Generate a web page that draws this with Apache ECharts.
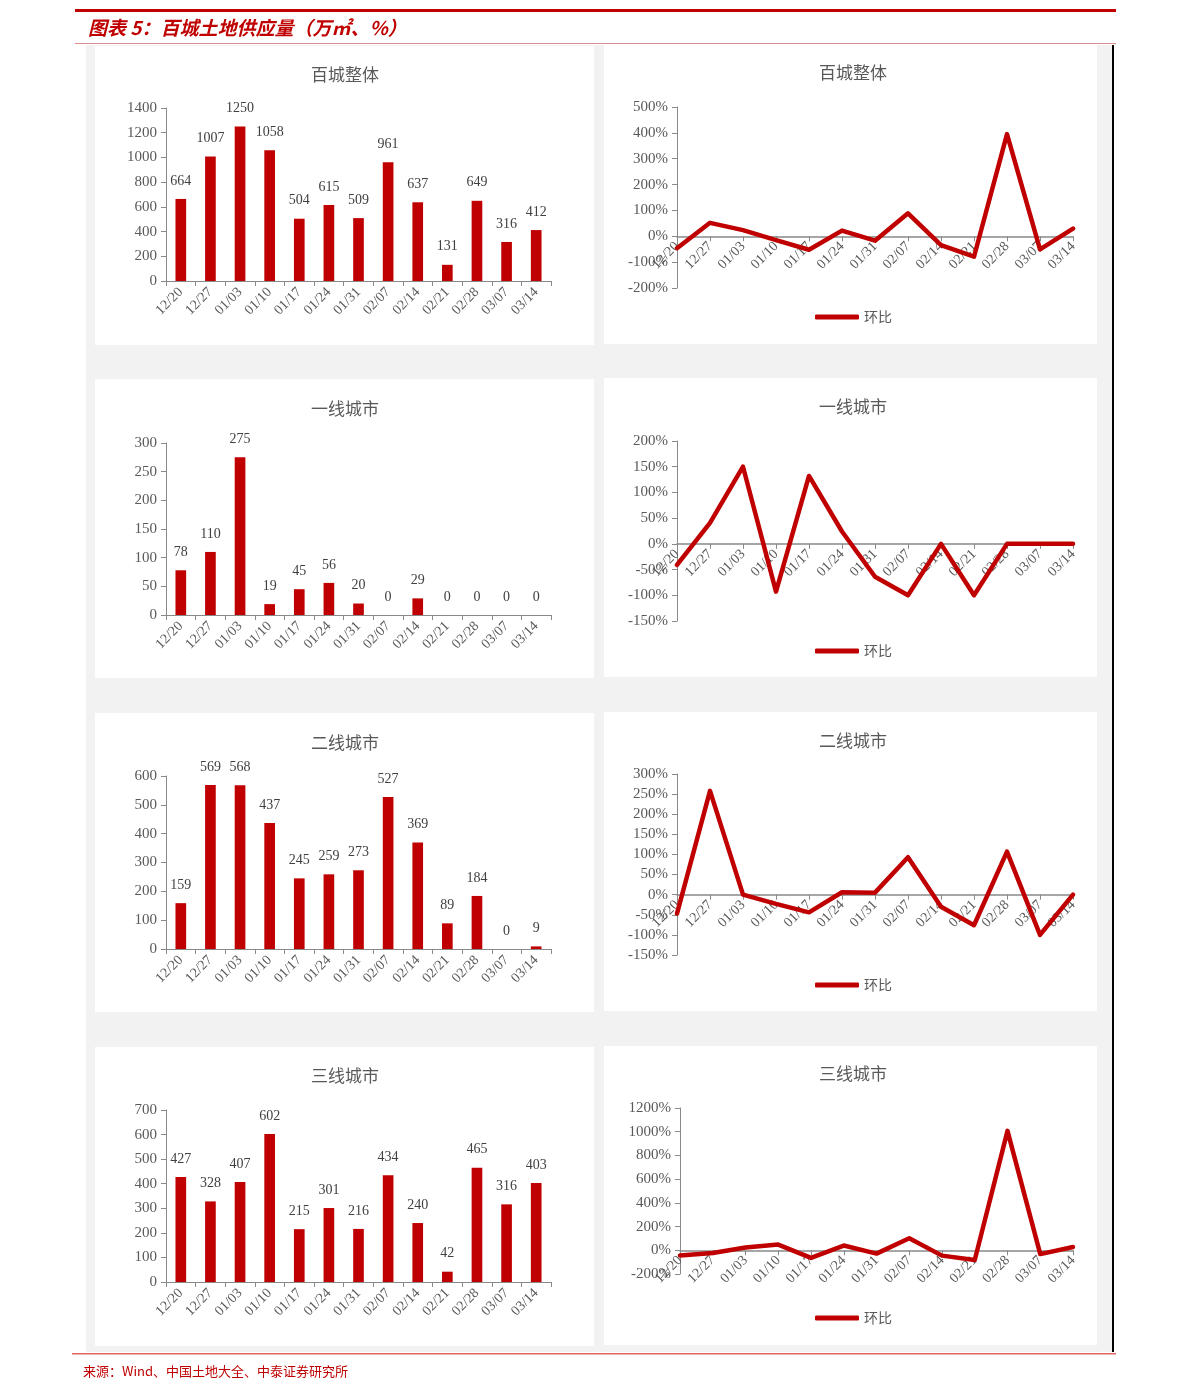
<!DOCTYPE html>
<html>
<head>
<meta charset="utf-8">
<script src="https://cdn.jsdelivr.net/npm/echarts@6/dist/echarts.min.js"></script>
<style>
html,body{margin:0;padding:0;background:#fff;}
#main{width:1191px;height:1398px;}
</style>
</head>
<body>
<div id="main"></div>
<script>
// ---- data ----
const categories = ['12/20','12/27','01/03','01/10','01/17','01/24','01/31','02/07','02/14','02/21','02/28','03/07','03/14'];
const panelTitles = ['百城整体','一线城市','二线城市','三线城市'];
const supplyAll   = [664,1007,1250,1058,504,615,509,961,637,131,649,316,412];
const supplyTier1 = [78,110,275,19,45,56,20,0,29,0,0,0,0];
const supplyTier2 = [159,569,568,437,245,259,273,527,369,89,184,0,9];
const supplyTier3 = [427,328,407,602,215,301,216,434,240,42,465,316,403];
const momAll   = [-46,52,24,-15,-52,22,-17,89,-34,-79,395,-51,30];
const momTier1 = [-41,41,150,-93,132,24,-64,-100,0,-100,0,0,0];
const momTier2 = [-47,258,0,-23,-44,6,5,93,-30,-76,107,-100,0];
const momTier3 = [-43,-23,24,48,-64,40,-28,101,-45,-82,1007,-32,28];
const seriesName = '环比';
const barRanges  = [[0,1400,200],[0,300,50],[0,600,100],[0,700,100]];
const lineRanges = [[-200,500,100],[-150,200,50],[-150,300,50],[-200,1200,200]];
const headerText = '图表 5：百城土地供应量（万㎡、%）';
const footerText = '来源：Wind、中国土地大全、中泰证券研究所';

// ---- layout / style ----
const RED = '#c00000';
const AXIS = '#898989';
const TXT = '#595959';
const SERIF = '"Liberation Serif", "Times New Roman", serif';
const CJK = '"Noto Sans CJK SC", sans-serif';
const barSets = [supplyAll, supplyTier1, supplyTier2, supplyTier3];
const lineSets = [momAll, momTier1, momTier2, momTier3];
const barGrids = [
  {top:108, bottom:281},{top:443, bottom:615},{top:776, bottom:949},{top:1110, bottom:1282}
];
const lineGrids = [
  {top:107, bottom:288, left:677},{top:441, bottom:621, left:677},{top:774, bottom:955, left:677},{top:1108, bottom:1274, left:680}
];
const panelTops = [46, 379, 713, 1047];
const titleY = [75, 409, 743, 1076];
const legendY = [317, 651, 985, 1318];

const grid = [], xAxis = [], yAxis = [], series = [], legend = [];
const graphic = [
  {type:'rect', shape:{x:86,y:45,width:1026,height:1307}, style:{fill:'#f2f2f2'}, z:-10},
  {type:'rect', shape:{x:1112,y:45,width:2,height:1307}, style:{fill:'#000'}, z:-9},
  {type:'rect', shape:{x:75,y:9,width:1041,height:3}, style:{fill:RED}},
  {type:'rect', shape:{x:75,y:43,width:1041,height:1}, style:{fill:'#dc8c8c'}},
  {type:'rect', shape:{x:72,y:1353,width:1044,height:1.5}, style:{fill:'#e06666'}},
  {type:'text', x:88, y:28, style:{text:headerText, fill:RED, font:'italic bold 19px ' + CJK, textVerticalAlign:'middle'}},
  {type:'text', x:83, y:1371, style:{text:footerText, fill:RED, font:'13px ' + CJK, textVerticalAlign:'middle'}}
];
const plain = v => String(v);
const pct = v => String(v) + '%';

for (let i = 0; i < 4; i++) {
  const pt = panelTops[i];
  graphic.push({type:'rect', shape:{x:95,y:pt,width:499,height:299}, style:{fill:'#fff'}, z:-8});
  graphic.push({type:'rect', shape:{x:604,y:pt-1,width:493,height:299}, style:{fill:'#fff'}, z:-8});
  graphic.push({type:'text', x:345, y:titleY[i], style:{text:panelTitles[i], fill:TXT, font:'17px ' + CJK, textAlign:'center', textVerticalAlign:'middle'}});
  graphic.push({type:'text', x:853, y:titleY[i]-2, style:{text:panelTitles[i], fill:TXT, font:'17px ' + CJK, textAlign:'center', textVerticalAlign:'middle'}});

  // bar chart
  const bg = barGrids[i];
  const bi = grid.length;
  grid.push({left:166, width:385, top:bg.top, height:bg.bottom-bg.top, containLabel:false});
  xAxis.push({type:'category', gridIndex:bi, data:categories, boundaryGap:true,
    axisLine:{lineStyle:{color:AXIS, width:1}},
    axisTick:{show:true, length:5, lineStyle:{color:AXIS}},
    axisLabel:{rotate:45, margin:9, color:TXT, fontSize:14, fontFamily:SERIF, interval:0}});
  yAxis.push({type:'value', gridIndex:bi, min:barRanges[i][0], max:barRanges[i][1], interval:barRanges[i][2],
    axisLine:{show:true, lineStyle:{color:AXIS}},
    axisTick:{show:true, length:5, lineStyle:{color:AXIS}},
    splitLine:{show:false},
    axisLabel:{color:TXT, fontSize:15, fontFamily:SERIF, margin:9, formatter:plain}});
  series.push({type:'bar', xAxisIndex:bi, yAxisIndex:bi, data:barSets[i], barWidth:'36%',
    itemStyle:{color:RED},
    label:{show:true, position:'top', distance:11, color:'#404040', fontSize:14, fontFamily:SERIF}});

  // line chart: category axis drawn at the 0% level (Excel style)
  const lg = lineGrids[i];
  const li = grid.length;
  const h = lg.bottom - lg.top;
  const [mn, mx, step] = lineRanges[i];
  const zeroOffset = -h * (0 - mn) / (mx - mn);
  grid.push({left:lg.left, right:1191-1073, top:lg.top, height:h, containLabel:false});
  xAxis.push({type:'category', gridIndex:li, data:categories, boundaryGap:false, position:'bottom', offset:zeroOffset,
    axisLine:{onZero:false, lineStyle:{color:AXIS, width:1.5}},
    axisTick:{show:true, length:5, lineStyle:{color:AXIS}},
    axisLabel:{rotate:45, margin:8, color:TXT, fontSize:14, fontFamily:SERIF, interval:0}});
  yAxis.push({type:'value', gridIndex:li, min:mn, max:mx, interval:step,
    axisLine:{show:true, lineStyle:{color:AXIS}},
    axisTick:{show:true, length:5, lineStyle:{color:AXIS}},
    splitLine:{show:false},
    axisLabel:{color:TXT, fontSize:15, fontFamily:SERIF, margin:9, formatter:pct}});
  series.push({type:'line', name:seriesName, xAxisIndex:li, yAxisIndex:li, data:lineSets[i],
    symbol:'none', lineStyle:{color:RED, width:4.5, cap:'round', join:'round'}, itemStyle:{color:RED}, z:5});
  legend.push({data:[seriesName], left:815, top:legendY[i]-8, padding:0, itemWidth:44, itemHeight:5, itemGap:6,
    icon:'roundRect', selectedMode:false,
    textStyle:{color:TXT, fontSize:14, fontFamily:CJK, lineHeight:16}});
}

const chart = echarts.init(document.getElementById('main'), null, {renderer:'canvas'});
chart.setOption({
  backgroundColor:'#fff',
  animation:false,
  grid, xAxis, yAxis, series, legend, graphic
});
</script>
</body>
</html>
